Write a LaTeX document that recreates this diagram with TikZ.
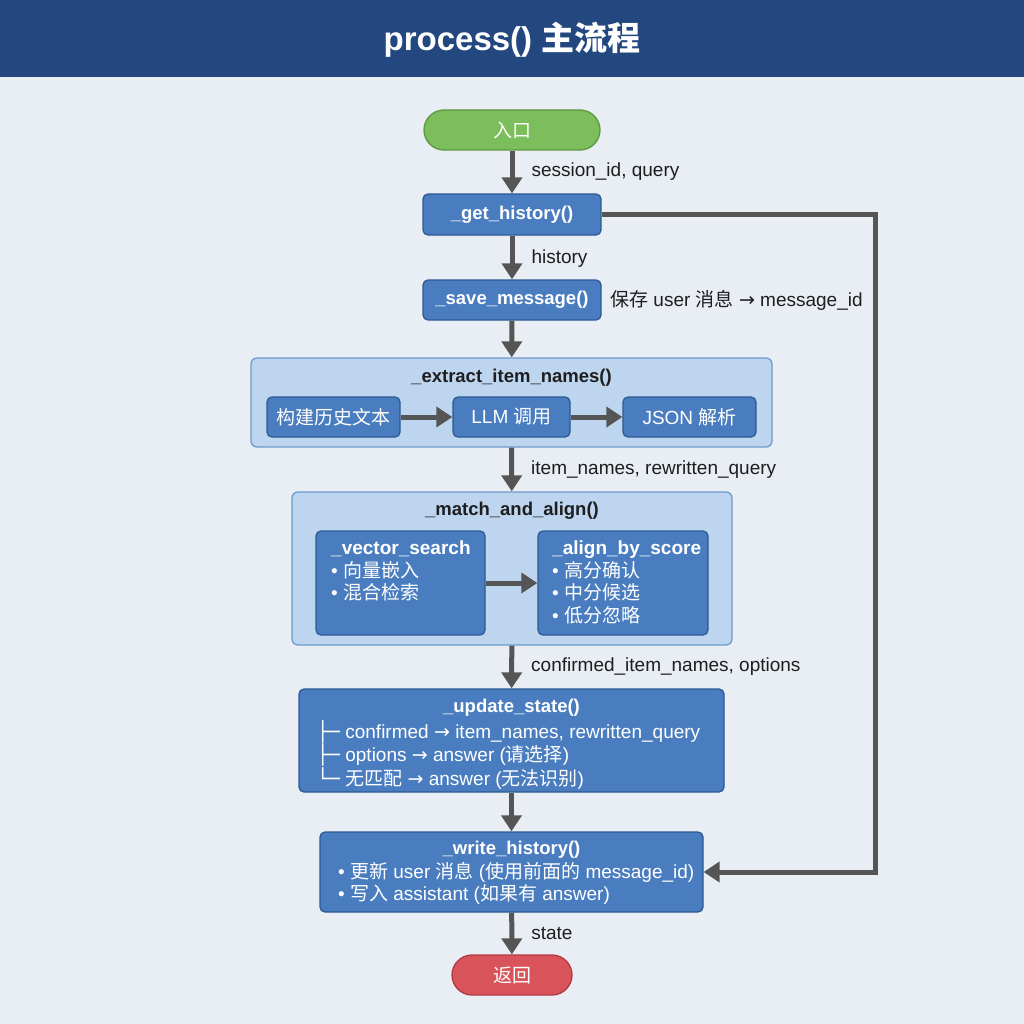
\documentclass[tikz,border=0pt]{standalone}
\usepackage{fontspec}
\setmainfont{Liberation Sans}
\newfontfamily\cjk{Noto Sans CJK SC}
\newfontfamily\symf{DejaVu Sans}
\newcommand\rarr{{\symf →}}
\newcommand\boxtee{{\symf ├─}}
\newcommand\boxell{{\symf └─}}
\usetikzlibrary{arrows.meta}
\definecolor{bgc}{HTML}{E9EEF5}
\definecolor{barc}{HTML}{23487F}
\definecolor{boxf}{HTML}{4A7DBF}
\definecolor{boxd}{HTML}{2C5A92}
\definecolor{contf}{HTML}{BDD5EE}
\definecolor{contd}{HTML}{6E9ACD}
\definecolor{grnf}{HTML}{7DBE5C}
\definecolor{grnd}{HTML}{5A9A3E}
\definecolor{redf}{HTML}{D9545A}
\definecolor{redd}{HTML}{B23A40}
\definecolor{arrc}{HTML}{555555}
\definecolor{txtc}{HTML}{1E1E1E}
\tikzset{
  fnt/.style={font=\fontsize{19}{22.5}\selectfont},
  bluebox/.style={draw=boxd, fill=boxf, line width=1.3pt, rounded corners=5pt, inner sep=0pt, text=white, fnt},
  contbox/.style={draw=contd, fill=contf, line width=1.3pt, rounded corners=6pt, inner sep=0pt},
  pill/.style={line width=1.3pt, rounded corners=20pt, inner sep=0pt, text=white, fnt},
  arr/.style={draw=arrc, line width=5pt, -{Triangle[length=16pt,width=20pt]}},
  lbl/.style={text=txtc, fnt, inner sep=0pt, anchor=west},
  ttl/.style={text=white, font=\fontsize{18.5}{22}\selectfont\bfseries, inner sep=0pt},
  body/.style={text=white, fnt, align=left, inner sep=0pt, anchor=north west},
}
\begin{document}
\begin{tikzpicture}[x=1pt,y=-1pt]
\fill[bgc] (0,0) rectangle (1024,1024);
\useasboundingbox (0,0) rectangle (1024,1024);
\fill[barc] (0,0) rectangle (1024,77);
\node[text=white, font=\fontsize{33}{38}\selectfont\bfseries, inner sep=0pt] (title) at (512,40) {process() {\cjk 主流程}};

% nodes
\node[pill, draw=grnd, fill=grnf, minimum width=176pt, minimum height=40pt] (entry) at (512,130) {\cjk 入口};
\node[bluebox, minimum width=178pt, minimum height=41pt, font=\fontsize{18.5}{22}\selectfont\bfseries] (gh) at (512,214.5) {\_get\_history()};
\node[bluebox, minimum width=178pt, minimum height=40pt, font=\fontsize{18.5}{22}\selectfont\bfseries] (sm) at (512,300) {\_save\_message()};
\node[lbl] (smnote) at (610,300) {{\cjk 保存} user {\cjk 消息} \rarr{} message\_id};

% extract container
\node[contbox, minimum width=521pt, minimum height=89pt] (ext) at (511.5,402.5) {};
\node[ttl, text=txtc] (extt) at (511.5,378) {\_extract\_item\_names()};
\node[bluebox, minimum width=133pt, minimum height=40pt] (b1) at (333.5,417) {\cjk 构建历史文本};
\node[bluebox, minimum width=117pt, minimum height=40pt] (b2) at (511.5,417) {LLM {\cjk 调用}};
\node[bluebox, minimum width=133pt, minimum height=40pt] (b3) at (689.5,417) {JSON {\cjk 解析}};
\draw[arr] (b1) -- (b2);
\draw[arr] (b2) -- (b3);

% match container
\node[contbox, minimum width=440pt, minimum height=153pt] (maa) at (512,568.5) {};
\node[ttl, text=txtc] (maat) at (512,511) {\_match\_and\_align()};
\node[bluebox, minimum width=169pt, minimum height=104pt] (vs) at (400.5,583) {};
\node[body] (vst) at (331,541) {\textbf{\_vector\_search}\\ • {\cjk 向量嵌入}\\ • {\cjk 混合检索}};
\node[bluebox, minimum width=170pt, minimum height=104pt] (abs) at (623,583) {};
\node[body] (abst) at (552,541) {\textbf{\_align\_by\_score}\\ • {\cjk 高分确认}\\ • {\cjk 中分候选}\\ • {\cjk 低分忽略}};
\draw[arr] (vs) -- (abs);

% update state
\node[bluebox, minimum width=425pt, minimum height=103pt] (us) at (511.5,740.5) {};
\node[ttl] (ust) at (511.5,708) {\_update\_state()};
\node[body] (usb) at (317,720) {\boxtee{} confirmed \rarr{} item\_names, rewritten\_query\\ \boxtee{} options \rarr{} answer ({\cjk 请选择})\\ \boxell{} {\cjk 无匹配} \rarr{} answer ({\cjk 无法识别})};

% write history
\node[bluebox, minimum width=383pt, minimum height=80pt] (wh) at (511.5,872) {};
\node[ttl] (wht) at (511.5,850) {\_write\_history()};
\node[body] (whb) at (338,862) {• {\cjk 更新} user {\cjk 消息} ({\cjk 使用前面的} message\_id)\\ • {\cjk 写入} assistant ({\cjk 如果有} answer)};

\node[pill, draw=redd, fill=redf, minimum width=120pt, minimum height=40pt] (ret) at (512,975) {\cjk 返回};

% connectors
\draw[arr] (entry) -- node[lbl, xshift=17pt] (l1) {session\_id, query} (gh);
\draw[arr] (gh) -- node[lbl, xshift=17pt, yshift=-1pt] (l2) {history} (sm);
\draw[arr] (sm) -- (ext);
\draw[arr] (ext) -- node[lbl, xshift=17pt] (l3) {item\_names, rewritten\_query} (maa);
\draw[arr] (maa) -- node[lbl, xshift=17pt] (l4) {confirmed\_item\_names, options} (us);
\draw[arr] (us) -- (wh);
\draw[arr] (wh) -- node[lbl, xshift=17pt] (l5) {state} (ret);
\coordinate (rt) at (875,214.5);
\draw[arr] (gh.east) -- (rt) |- (wh.east);
\end{tikzpicture}
\end{document}
